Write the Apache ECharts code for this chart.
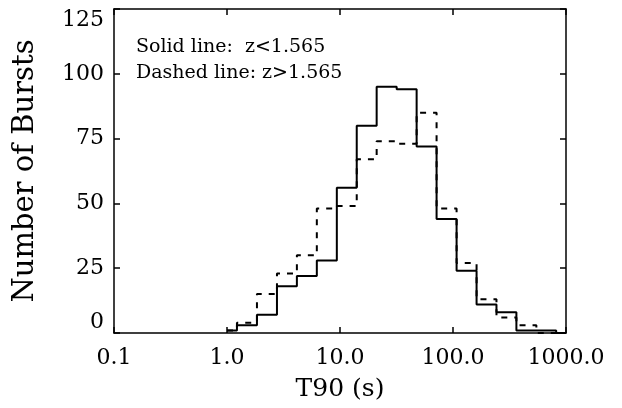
<!DOCTYPE html>
<html>
<head>
<meta charset="utf-8">
<script src="https://cdn.jsdelivr.net/npm/echarts@6/dist/echarts.min.js"></script>
<style>
html,body{margin:0;padding:0;background:#fff;}
#chart{width:622px;height:408px;}
</style>
</head>
<body>
<div id="chart"></div>
<script>
// ---- data ----
const binCenters = [1.00, 1.50, 2.26, 3.39, 5.09, 7.64, 11.5, 17.2, 25.9, 38.9, 58.4, 87.7, 132, 198, 297, 446, 670, 1000];
const solidCounts = [1, 3, 7, 18, 22, 28, 56, 80, 95, 94, 72, 44, 24, 11, 8, 1, 1, 0];
const dashedCounts = [1, 4, 15, 23, 30, 48, 49, 67, 74, 73, 85, 48, 27, 13, 6, 3, 0, 0];
const xTickValues = [0.1, 1, 10, 100, 1000];
const xTickLabels = ['0.1', '1.0', '10.0', '100.0', '1000.0'];
const yTickValues = [0, 25, 50, 75, 100, 125];
const yTickLabels = ['0', '25', '50', '75', '100', '125'];
const xTitle = 'T90 (s)';
const yTitle = 'Number of Bursts';
const noteLines = ['Solid line:  z<1.565', 'Dashed line: z>1.565'];

const FONT = 'DejaVu Serif';
const INK = '#000';

function xLabel(v) {
  for (let i = 0; i < xTickValues.length; i++) {
    if (Math.abs(Math.log10(v) - Math.log10(xTickValues[i])) < 1e-6) return xTickLabels[i];
  }
  return '';
}
function yLabel(v) {
  const i = yTickValues.indexOf(v);
  return i >= 0 ? yTickLabels[i] : '';
}

const chart = echarts.init(document.getElementById('chart'), null, {renderer: 'canvas'});
const axisLine = {show: true, onZero: false, lineStyle: {color: INK, width: 1.5}};
const tick = {show: true, inside: true, length: 6, lineStyle: {color: INK, width: 1.5}};

chart.setOption({
  animation: false,
  backgroundColor: '#fff',
  title: {
    text: noteLines.join('\n'),
    left: 131, top: 29,
    textStyle: {fontFamily: FONT, fontSize: 19, fontWeight: 'normal', color: INK, lineHeight: 26}
  },
  grid: {left: 114, right: 56, top: 9, bottom: 75, containLabel: false},
  xAxis: [{
    type: 'log', logBase: 10, min: 0.1, max: 1000, position: 'bottom',
    name: xTitle, nameLocation: 'middle', nameGap: 44,
    nameTextStyle: {fontFamily: FONT, fontSize: 25, color: INK},
    axisLine: axisLine, axisTick: tick, minorTick: {show: false},
    splitLine: {show: false},
    axisLabel: {formatter: xLabel, fontFamily: FONT, fontSize: 22, color: INK, margin: 14, showMinLabel: true, showMaxLabel: true}
  }, {
    type: 'log', logBase: 10, min: 0.1, max: 1000, position: 'top',
    axisLine: axisLine, axisTick: tick, splitLine: {show: false},
    axisLabel: {show: false}
  }],
  yAxis: [{
    type: 'value', min: 0, max: 125, interval: 25, position: 'left',
    name: yTitle, nameLocation: 'middle', nameGap: 74, nameRotate: 90,
    nameTextStyle: {fontFamily: FONT, fontSize: 29, color: INK},
    axisLine: axisLine, axisTick: tick, splitLine: {show: false},
    axisLabel: {formatter: yLabel, fontFamily: FONT, fontSize: 22, color: INK, margin: 10,
      verticalAlignMinLabel: 'bottom', verticalAlignMaxLabel: 'top'}
  }, {
    type: 'value', min: 0, max: 125, interval: 25, position: 'right',
    axisLine: axisLine, axisTick: tick, splitLine: {show: false},
    axisLabel: {show: false}
  }],
  series: [{
    name: 'z<1.565', type: 'line', step: 'middle', symbol: 'none',
    xAxisIndex: 0, yAxisIndex: 0,
    lineStyle: {color: INK, width: 2, type: 'solid'},
    data: binCenters.map((c, i) => [c, solidCounts[i]])
  }, {
    name: 'z>1.565', type: 'line', step: 'middle', symbol: 'none',
    xAxisIndex: 0, yAxisIndex: 0,
    lineStyle: {color: INK, width: 2, type: [6, 7]},
    data: binCenters.map((c, i) => [c, dashedCounts[i]])
  }]
});
</script>
</body>
</html>
